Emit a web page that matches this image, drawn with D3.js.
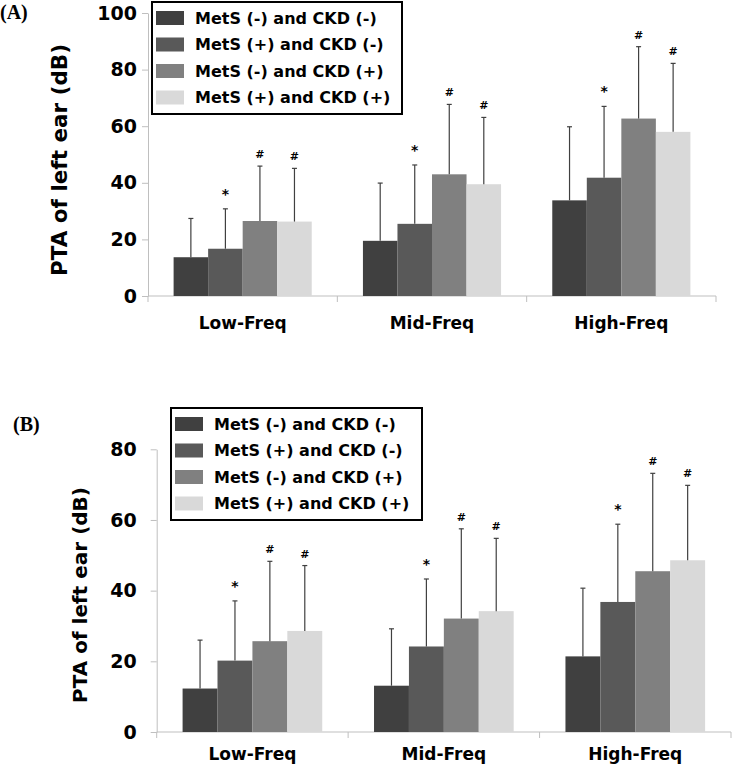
<!DOCTYPE html>
<html lang="en">
<head>
    <meta charset="UTF-8">
    <title>PTA of left ear</title>
    <script src="https://cdnjs.cloudflare.com/ajax/libs/d3/7.8.5/d3.min.js"></script>
    <style>
        * { margin: 0; padding: 0; box-sizing: border-box; }
        body { background: white; }
        svg { display: block; }
        .bold { font-family: 'DejaVu Sans', sans-serif; font-weight: bold; }
    </style>
</head>
<body>
    <svg id="chart" width="736" height="765"></svg>

    <script>
        // Data
        const categories = ['Low-Freq', 'Mid-Freq', 'High-Freq'];
        const groups = ['MetS (-) and CKD (-)', 'MetS (+) and CKD (-)', 'MetS (-) and CKD (+)', 'MetS (+) and CKD (+)'];
        const colors = ['#404040', '#595959', '#808080', '#d9d9d9'];
        const markers = ['', '*', '#', '#'];

        // panel A means / upper error bar ends (per category, per group)
        const meansA = [
            [13.7, 16.7, 26.5, 26.3],
            [19.5, 25.5, 43.0, 39.5],
            [33.8, 41.8, 62.7, 58.0]
        ];
        const errTopA = [
            [27.4, 30.8, 45.9, 45.1],
            [39.9, 46.3, 67.7, 63.1],
            [59.8, 67.0, 88.1, 82.2]
        ];
        const ticksA = [0, 20, 40, 60, 80, 100];

        // panel B
        const meansB = [
            [12.3, 20.2, 25.7, 28.6],
            [13.1, 24.2, 32.1, 34.2],
            [21.4, 36.8, 45.5, 48.6]
        ];
        const errTopB = [
            [26.0, 37.1, 48.3, 47.1],
            [29.2, 43.3, 57.5, 54.8],
            [40.7, 58.8, 73.2, 69.8]
        ];
        const ticksB = [0, 20, 40, 60, 80];

        const svg = d3.select('#chart');

        function drawPanel(opt) {
            const g = svg.append('g');

            const x = d3.scaleBand()
                .domain(categories)
                .range([opt.left, opt.right]);

            const pad = 25.6 / 189.3 * x.step();
            const x1 = d3.scaleBand()
                .domain(groups)
                .range([pad, x.step() - pad]);

            const y = d3.scaleLinear()
                .domain([0, opt.max])
                .range([opt.bottom, opt.top]);

            // y axis
            const yAxis = g.append('g')
                .attr('transform', `translate(${opt.left},0)`)
                .call(d3.axisLeft(y).tickValues(opt.ticks).tickSize(6).tickSizeOuter(0).tickPadding(opt.tickPad));
            yAxis.select('.domain').attr('stroke', '#bfbfbf');
            yAxis.selectAll('.tick line').attr('stroke', '#bfbfbf');
            yAxis.selectAll('.tick text')
                .attr('class', 'bold')
                .attr('font-size', 19)
                .attr('fill', '#000');

            // x axis line and boundary ticks
            g.append('line')
                .attr('x1', opt.left).attr('x2', opt.right)
                .attr('y1', opt.bottom).attr('y2', opt.bottom)
                .attr('stroke', '#bfbfbf');
            const bounds = categories.map(c => x(c)).concat([opt.right]);
            g.selectAll('.xtick')
                .data(bounds)
                .enter()
                .append('line')
                .attr('x1', d => d).attr('x2', d => d)
                .attr('y1', opt.bottom).attr('y2', opt.bottom + 6)
                .attr('stroke', '#bfbfbf');

            g.selectAll('.xlabel')
                .data(categories)
                .enter()
                .append('text')
                .attr('class', 'bold')
                .attr('x', d => x(d) + x.bandwidth() / 2)
                .attr('y', opt.bottom + opt.labelDy)
                .attr('text-anchor', 'middle')
                .attr('font-size', 17)
                .text(d => d);

            // bars, error bars, markers
            categories.forEach((cat, ci) => {
                const cg = g.append('g').attr('transform', `translate(${x(cat)},0)`);
                groups.forEach((grp, gi) => {
                    const bx = x1(grp);
                    const cx = bx + x1.bandwidth() / 2;
                    const v = opt.means[ci][gi];
                    const e = opt.errTop[ci][gi];
                    cg.append('rect')
                        .attr('x', bx)
                        .attr('y', y(v))
                        .attr('width', x1.bandwidth())
                        .attr('height', y(0) - y(v))
                        .attr('fill', colors[gi]);
                    cg.append('line')
                        .attr('x1', cx).attr('x2', cx)
                        .attr('y1', y(v)).attr('y2', y(e))
                        .attr('stroke', '#404040').attr('stroke-width', 1.2);
                    cg.append('line')
                        .attr('x1', cx - 2.5).attr('x2', cx + 2.5)
                        .attr('y1', y(e)).attr('y2', y(e))
                        .attr('stroke', '#404040').attr('stroke-width', 1.2);
                    if (markers[gi]) {
                        cg.append('text')
                            .attr('x', cx)
                            .attr('y', y(e) - (markers[gi] === '*' ? 10 : 8))
                            .attr('text-anchor', 'middle')
                            .attr('font-family', 'DejaVu Sans, sans-serif')
                            .attr('font-weight', 'bold')
                            .attr('font-size', markers[gi] === '*' ? 14 : 11)
                            .text(markers[gi]);
                    }
                });
            });

            // y axis title
            g.append('text')
                .attr('class', 'bold')
                .attr('transform', `translate(${opt.titleX},${opt.titleY}) rotate(-90)`)
                .attr('text-anchor', 'middle')
                .attr('font-size', opt.titleSize)
                .text('PTA of left ear (dB)');

            // panel letter
            g.append('text')
                .attr('x', opt.letterX)
                .attr('y', opt.letterY)
                .attr('font-family', 'Liberation Serif, Times New Roman, serif')
                .attr('font-weight', 'bold')
                .attr('font-size', 20)
                .text(opt.letter);

            // legend
            const lg = g.append('g').attr('transform', `translate(${opt.legX},${opt.legY})`);
            lg.append('rect')
                .attr('width', opt.legW)
                .attr('height', 112)
                .attr('fill', 'white')
                .attr('stroke', '#000')
                .attr('stroke-width', 2);
            groups.forEach((grp, gi) => {
                lg.append('rect')
                    .attr('x', 4)
                    .attr('y', 9 + gi * 26.5)
                    .attr('width', 28)
                    .attr('height', 14)
                    .attr('fill', colors[gi]);
                lg.append('text')
                    .attr('class', 'bold')
                    .attr('x', 43)
                    .attr('y', 16 + gi * 26.5)
                    .attr('dy', '0.35em')
                    .attr('font-size', 16)
                    .text(grp);
            });
        }

        drawPanel({
            left: 148, right: 716, top: 13, bottom: 296, max: 100,
            ticks: ticksA, means: meansA, errTop: errTopA, tickPad: 5, labelDy: 33,
            titleX: 67, titleY: 160, titleSize: 21.5,
            letter: '(A)', letterX: 0, letterY: 19,
            legX: 152, legY: 2, legW: 250
        });

        drawPanel({
            left: 156.7, right: 731, top: 449.3, bottom: 732, max: 80,
            ticks: ticksB, means: meansB, errTop: errTopB, tickPad: 14, labelDy: 28,
            titleX: 87, titleY: 595, titleSize: 20,
            letter: '(B)', letterX: 13, letterY: 431,
            legX: 171, legY: 408, legW: 251
        });
    </script>
</body>
</html>
